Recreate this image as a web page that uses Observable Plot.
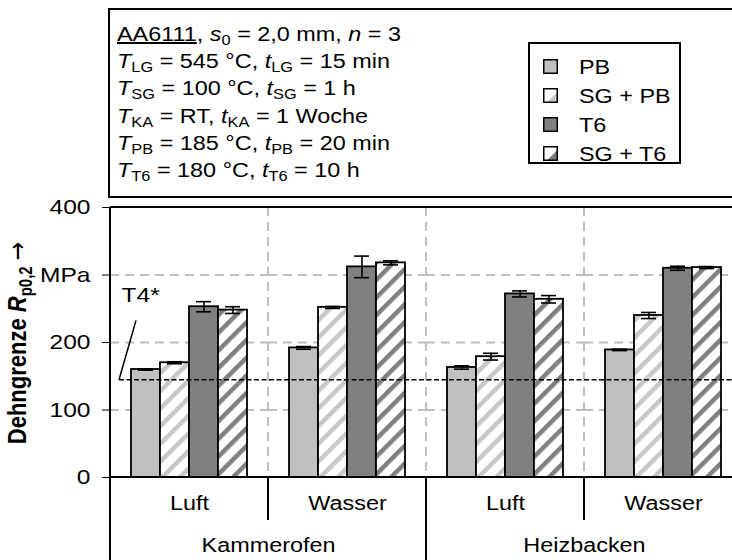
<!DOCTYPE html>
<html><head><meta charset="utf-8">
<script src="https://cdn.jsdelivr.net/npm/d3@7"></script>
<script src="https://cdn.jsdelivr.net/npm/@observablehq/plot@0.6"></script>
<style>
html,body{margin:0;padding:0;overflow:hidden;background:#fff;}
#wrap{position:relative;width:732px;height:560px;overflow:hidden;font-family:"Liberation Sans",Arial,sans-serif;color:#000;}
#wrap svg.plot{position:absolute;left:0;top:0;max-width:none !important;}
#info{position:absolute;left:108px;top:8px;width:660px;height:186px;border:2px solid #000;background:#fff;}
.ln{position:absolute;left:7px;font-size:20px;line-height:20px;white-space:nowrap;transform:scaleX(1.17);transform-origin:0 0;}
.ln i{font-style:italic;}
.ln .s{font-size:14px;position:relative;top:4px;}
#legend{position:absolute;left:418px;top:32px;width:149px;height:118px;border:2px solid #000;}
.le{position:absolute;left:49px;font-size:20px;line-height:20px;white-space:nowrap;transform:scaleX(1.17);transform-origin:0 0;}
.sw{position:absolute;left:13px;width:15px;height:15px;}
</style></head>
<body><div id="wrap">
<div id="info">
  <div class="ln" style="top:14px"><u>AA6111</u>, <i>s</i><span class="s">0</span> = 2,0 mm, <i>n</i> = 3</div>
  <div class="ln" style="top:41px"><i>T</i><span class="s">LG</span> = 545 °C, <i>t</i><span class="s">LG</span> = 15 min</div>
  <div class="ln" style="top:68px"><i>T</i><span class="s">SG</span> = 100 °C, <i>t</i><span class="s">SG</span> = 1 h</div>
  <div class="ln" style="top:96px"><i>T</i><span class="s">KA</span> = RT, <i>t</i><span class="s">KA</span> = 1 Woche</div>
  <div class="ln" style="top:123px"><i>T</i><span class="s">PB</span> = 185 °C, <i>t</i><span class="s">PB</span> = 20 min</div>
  <div class="ln" style="top:150px"><i>T</i><span class="s">T6</span> = 180 °C, <i>t</i><span class="s">T6</span> = 10 h</div>
  <div id="legend"></div>
</div>
</div>
<script>
const series = ["PB", "SG + PB", "T6", "SG + T6"];
const furnace = ["Kammerofen", "Kammerofen", "Heizbacken", "Heizbacken"];
const quench = ["Luft", "Wasser", "Luft", "Wasser"];
const pb = [160, 192, 163, 189];
const pbErr = [1, 2, 2.5, 1];
const sgpb = [170, 252, 179, 240];
const sgpbErr = [1.5, 1.5, 5, 4.5];
const t6 = [253, 312, 272, 310];
const t6Err = [7.5, 16, 4.5, 3];
const sgt6 = [248, 318, 264, 311];
const sgt6Err = [5, 3, 5.5, 1.5];
const t4 = 144;
const t4Label = "T4*";
const yTicks = [0, 100, 200, 300, 400];
const yTickLabels = ["0", "100", "200", "MPa", "400"];

const STRETCH = 1.17;
const fills = {"PB": "#c0c0c0", "SG + PB": "url(#stripeLight)", "T6": "#808080", "SG + T6": "url(#stripeDark)"};
const vals = [pb, sgpb, t6, sgt6];
const errs = [pbErr, sgpbErr, t6Err, sgt6Err];
const rows = [];
quench.forEach((q, g) => series.forEach((s, k) => rows.push({group: g, series: s, value: vals[k][g], err: errs[k][g]})));

const FONT = '"Liberation Sans", Arial, sans-serif';
const plot = Plot.plot({
  width: 760, height: 560,
  marginTop: 207, marginBottom: 83, marginLeft: 110, marginRight: 18,
  style: {fontFamily: FONT, fontSize: "21px", color: "#000", background: "transparent"},
  fx: {domain: [0, 1, 2, 3], padding: 0, axis: null},
  x: {domain: series, paddingInner: 0, paddingOuter: 0.72, axis: null},
  y: {domain: [0, 400], ticks: yTicks, tickFormat: d => yTickLabels[yTicks.indexOf(d)], tickSize: 8, tickPadding: 12, label: null},
  color: {type: "identity"},
  marks: [
    Plot.ruleY([100, 200, 300], {stroke: "#bfbfbf", strokeWidth: 2, strokeDasharray: "9,6"}),
    Plot.barY(rows, {fx: "group", x: "series", y: "value", fill: d => fills[d.series], stroke: "#000", strokeWidth: 1.8}),
    Plot.ruleX(rows, {fx: "group", x: "series", y1: d => d.value - d.err, y2: d => d.value + d.err, stroke: "#000", strokeWidth: 1.6}),
    Plot.tickY(rows, {fx: "group", x: "series", y: d => d.value - d.err, stroke: "#000", strokeWidth: 1.6, insetLeft: 7, insetRight: 7}),
    Plot.tickY(rows, {fx: "group", x: "series", y: d => d.value + d.err, stroke: "#000", strokeWidth: 1.6, insetLeft: 7, insetRight: 7}),
    Plot.text(quench, {fx: (d, i) => i, text: d => d, frameAnchor: "bottom", textAnchor: "middle", dy: 32, fontSize: 20}),
    Plot.text([0, 2], {fx: d => d, text: d => furnace[d], frameAnchor: "bottom-right", textAnchor: "middle", dy: 74, fontSize: 20}),
    Plot.text([t4Label], {fx: () => 0, y: () => 270, frameAnchor: "left", dx: 11, textAnchor: "start", fontSize: 21})
  ]
});
plot.classList.add("plot");
plot.style.maxWidth = "none";
plot.style.overflow = "hidden";
document.getElementById("wrap").insertBefore(plot, document.getElementById("info"));

// stretch horizontal texts to match the wide lettering of the reference
plot.querySelectorAll("text").forEach(t => {
  const len = t.getComputedTextLength();
  if (len > 0) { t.setAttribute("textLength", len * STRETCH); t.setAttribute("lengthAdjust", "spacingAndGlyphs"); }
});

const svg = d3.select(plot);
const defs = svg.insert("defs", ":first-child");
function pat(id, color) {
  const P = 12.5, W = 4.5;
  const p = defs.append("pattern").attr("id", id).attr("patternUnits", "userSpaceOnUse")
    .attr("width", P).attr("height", P).attr("patternTransform", "rotate(45)");
  p.append("rect").attr("width", P).attr("height", P).attr("fill", "#fff");
  p.append("rect").attr("width", W).attr("height", P).attr("fill", color);
}
pat("stripeLight", "#c8c8c8");
pat("stripeDark", "#808080");

const fx = plot.scale("fx"), y = plot.scale("y");
const step = fx.step || fx.bandwidth;
const fxStart = g => fx.apply ? fx.apply(g) : fx.range[0] + g * step;
const left = fxStart(0), right = fxStart(3) + step;
const y0 = y.apply(0), yTop = y.apply(400);
const g = svg.append("g");
[1, 2, 3].forEach(k => g.append("line").attr("x1", fxStart(k)).attr("x2", fxStart(k)).attr("y1", yTop).attr("y2", y0)
  .attr("stroke", "#bfbfbf").attr("stroke-width", 2).attr("stroke-dasharray", "9,6"));
g.append("line").attr("x1", left + 9).attr("x2", right).attr("y1", y.apply(t4)).attr("y2", y.apply(t4))
  .attr("stroke", "#000").attr("stroke-width", 1.6).attr("stroke-dasharray", "5,2.5");
g.append("line").attr("x1", left + 9).attr("y1", y.apply(t4)).attr("x2", left + 26).attr("y2", y.apply(232))
  .attr("stroke", "#000").attr("stroke-width", 1.5);
g.append("line").attr("x1", left).attr("x2", right).attr("y1", yTop).attr("y2", yTop).attr("stroke", "#000").attr("stroke-width", 2);
g.append("line").attr("x1", left).attr("x2", right).attr("y1", y0).attr("y2", y0).attr("stroke", "#000").attr("stroke-width", 2);
g.append("line").attr("x1", left).attr("x2", left).attr("y1", yTop).attr("y2", 560).attr("stroke", "#000").attr("stroke-width", 2);
[1, 3].forEach(k => g.append("line").attr("x1", fxStart(k)).attr("x2", fxStart(k)).attr("y1", y0).attr("y2", y0 + 43).attr("stroke", "#000").attr("stroke-width", 2));
[2, 4].forEach(k => g.append("line").attr("x1", left + k * step).attr("x2", left + k * step).attr("y1", y0).attr("y2", 560).attr("stroke", "#000").attr("stroke-width", 2));

const lab = svg.append("text").attr("transform", `translate(26,343) rotate(-90) scale(1,${STRETCH})`)
  .attr("text-anchor", "middle").attr("font-weight", "bold").attr("font-size", 22).attr("fill", "#000");
lab.append("tspan").text("Dehngrenze ");
lab.append("tspan").attr("font-style", "italic").text("R");
lab.append("tspan").attr("font-size", 15).attr("dy", 5).text("p0,2");
lab.append("tspan").attr("dy", -5).text(" ");
lab.append("tspan").attr("font-weight", "normal").attr("font-family", "DejaVu Sans").attr("font-size", 22).text("\u2192");

const leg = document.getElementById("legend");
const swatches = [
  {fill: "#c0c0c0", tri: null},
  {fill: "#fff", tri: "#c8c8c8"},
  {fill: "#808080", tri: null},
  {fill: "#fff", tri: "#808080"}
];
series.forEach((s, i) => {
  const top = 13 + i * 29;
  const sw = d3.create("svg").attr("class", "sw").attr("width", 15).attr("height", 15).style("top", (top + 2) + "px");
  sw.append("rect").attr("x", 0.75).attr("y", 0.75).attr("width", 13.5).attr("height", 13.5).attr("fill", swatches[i].fill);
  if (swatches[i].tri) sw.append("path").attr("d", "M14.25,4 L14.25,14.25 L4,14.25 Z").attr("fill", swatches[i].tri);
  sw.append("rect").attr("x", 0.75).attr("y", 0.75).attr("width", 13.5).attr("height", 13.5).attr("fill", "none").attr("stroke", "#000").attr("stroke-width", 1.5);
  leg.appendChild(sw.node());
  const t = document.createElement("div");
  t.className = "le"; t.style.top = top + "px"; t.textContent = s;
  leg.appendChild(t);
});
</script>
</body></html>
